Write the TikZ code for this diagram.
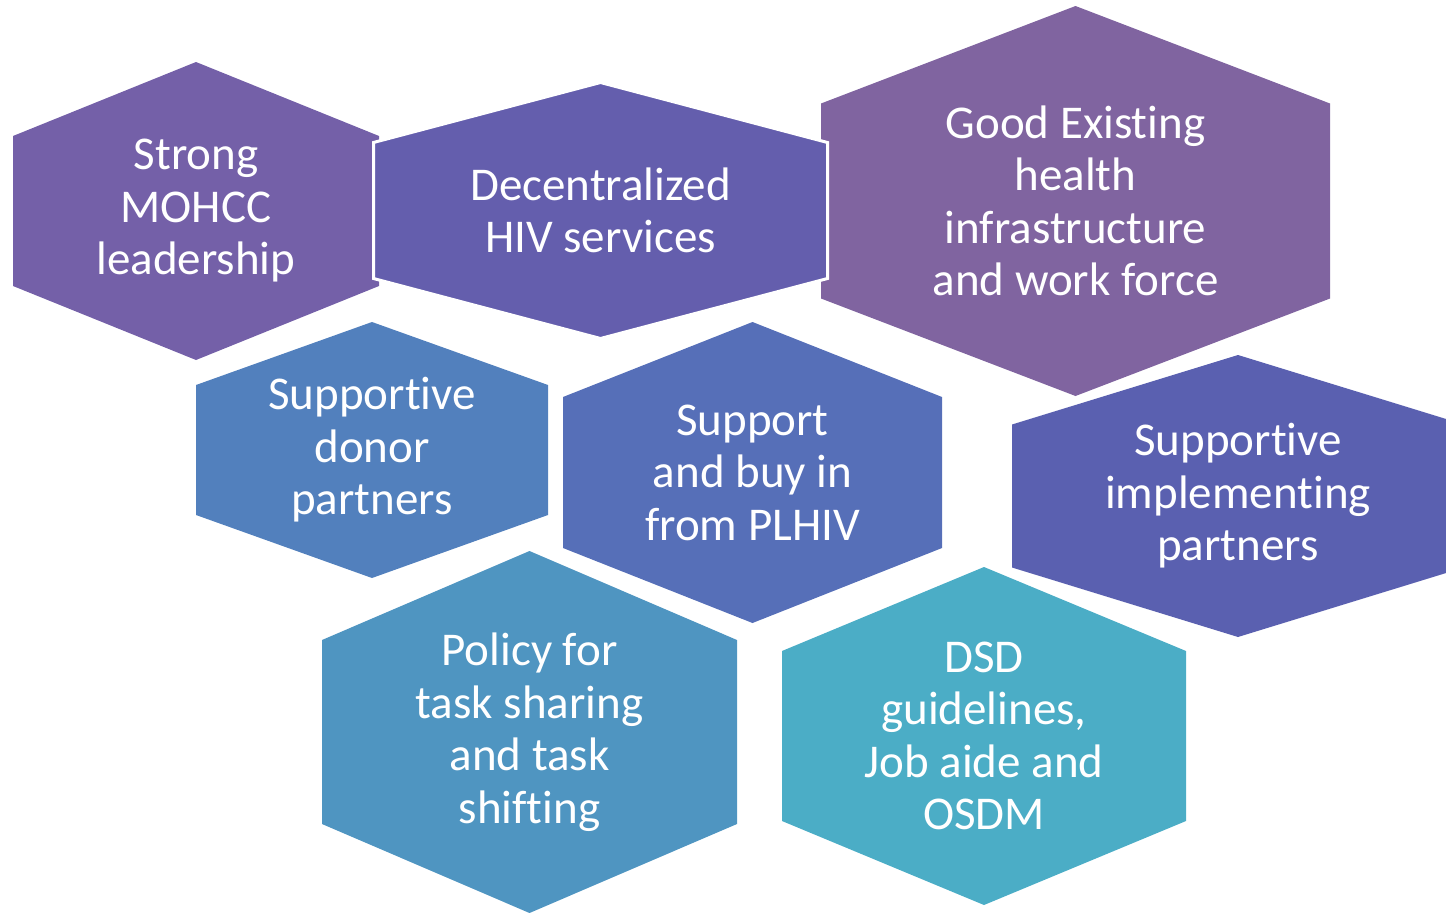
\documentclass[tikz,border=0pt]{standalone}
\usepackage{fontspec}
\setmainfont{Carlito}[Ligatures=NoCommon, RawFeature=-liga]

\definecolor{mohcc}{HTML}{7460A8}
\definecolor{decent}{HTML}{645EAD}
\definecolor{infra}{HTML}{8064A0}
\definecolor{donor}{HTML}{5280BD}
\definecolor{plhiv}{HTML}{566FB8}
\definecolor{implem}{HTML}{5A60B0}
\definecolor{policy}{HTML}{4F95C1}
\definecolor{dsd}{HTML}{4BADC6}

\tikzset{cell/.style={text=white, align=center, inner sep=0pt,
    font=\fontsize{47}{52.5}\selectfont}}

% name, centre, half width, half height, half side, fill options, text
\newcommand{\hexcell}[7]{%
  \begin{scope}[shift={(#2)}]
    \path[#6] (-#3,-#5) -- (0,-#4) -- (#3,-#5) -- (#3,#5) -- (0,#4) -- (-#3,#5) -- cycle;
    \node (#1) at (0,0) [cell] {#7};
  \end{scope}}

\begin{document}
\begin{tikzpicture}[x=1pt,y=-1pt]
  \useasboundingbox (0,0) rectangle (1446,913);
  \clip (0,0) rectangle (1446,913);

  \hexcell{leader}{196,211}{183}{149}{75}{fill=mohcc}{Strong\\MOHCC\\leadership}
  \hexcell{infra}{1075.5,201}{254.5}{195}{97.5}{fill=infra}{Good Existing\\health\\infrastructure\\and work force}
  \hexcell{decent}{600.5,210.5}{227}{128}{68}{fill=decent, draw=white, line width=3pt}{Decentralized\\HIV services}

  \hexcell{donor}{372,450}{176}{128}{65}{fill=donor}{Supportive\\donor\\partners}
  \hexcell{plhiv}{752.5,472.5}{189.5}{150.5}{75.5}{fill=plhiv}{Support\\and buy in\\from PLHIV}
  \hexcell{implem}{1238,496}{226}{141}{71.5}{fill=implem}{Supportive\\implementing\\partners}

  \hexcell{policy}{529.5,732}{207.5}{181}{92}{fill=policy}{Policy for\\task sharing\\and task\\shifting}
  \hexcell{dsd}{984,736}{202}{169}{85}{fill=dsd}{DSD\\guidelines,\\Job aide and\\OSDM}
\end{tikzpicture}
\end{document}
